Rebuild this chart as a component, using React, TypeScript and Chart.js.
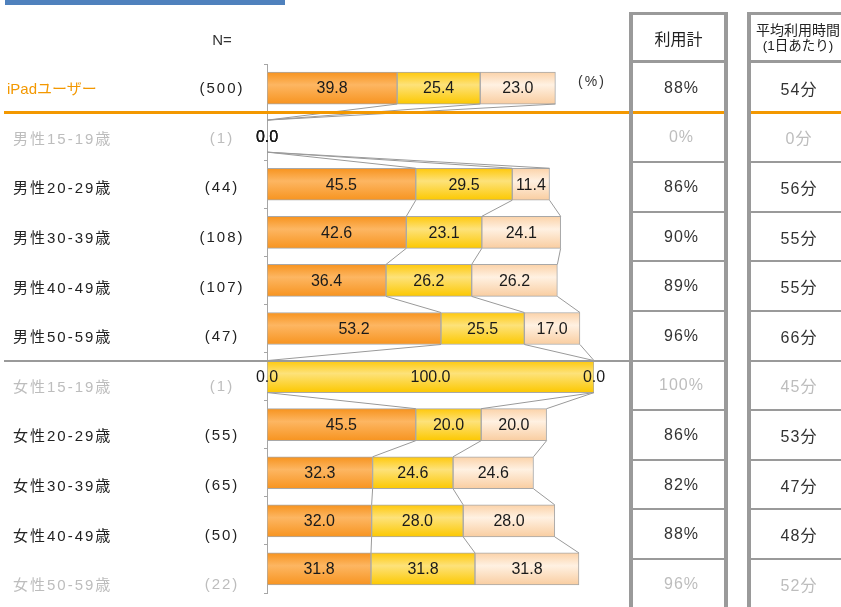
import React, { useEffect, useRef } from "react";
import { Chart, registerables } from "chart.js";

Chart.register(...registerables);

const categories = [
  "iPadユーザー",
  "男性15-19歳",
  "男性20-29歳",
  "男性30-39歳",
  "男性40-49歳",
  "男性50-59歳",
  "女性15-19歳",
  "女性20-29歳",
  "女性30-39歳",
  "女性40-49歳",
  "女性50-59歳",
];
const sampleSizes = ["(500)", "(1)", "(44)", "(108)", "(107)", "(47)", "(1)", "(55)", "(65)", "(50)", "(22)"];
const seriesA = [39.8, 0, 45.5, 42.6, 36.4, 53.2, 0, 45.5, 32.3, 32.0, 31.8];
const seriesB = [25.4, 0, 29.5, 23.1, 26.2, 25.5, 100.0, 20.0, 24.6, 28.0, 31.8];
const seriesC = [23.0, 0, 11.4, 24.1, 26.2, 17.0, 0, 20.0, 24.6, 28.0, 31.8];
const usageTotal = ["88%", "0%", "86%", "90%", "89%", "96%", "100%", "86%", "82%", "88%", "96%"];
const avgTime = ["54分", "0分", "56分", "55分", "55分", "66分", "45分", "53分", "47分", "48分", "52分"];
const mutedRows = [1, 6, 10];

const FONT = '"Liberation Sans", "Noto Sans CJK JP", sans-serif';

function gradientFill(top: string, mid: string, bottom: string) {
  return (ctx: any) => {
    const chart = ctx.chart;
    const yScale = chart.scales && chart.scales.y;
    if (!yScale || ctx.type !== "data") return mid;
    const yc = yScale.getPixelForValue(ctx.dataIndex);
    if (!isFinite(yc)) return mid;
    const g = chart.ctx.createLinearGradient(0, yc - 16, 0, yc + 16);
    g.addColorStop(0, top);
    g.addColorStop(0.4, mid);
    g.addColorStop(1, bottom);
    return g;
  };
}

const overlayPlugin = {
  id: "seriesLinesAndLabels",
  afterDatasetsDraw(chart: any) {
    const ctx = chart.ctx;
    ctx.save();
    ctx.strokeStyle = "#9a9a9a";
    ctx.lineWidth = 1;
    chart.data.datasets.forEach((_ds: any, di: number) => {
      const meta = chart.getDatasetMeta(di);
      for (let i = 0; i < meta.data.length - 1; i++) {
        const a: any = meta.data[i];
        const b: any = meta.data[i + 1];
        ctx.beginPath();
        ctx.moveTo(a.x, a.y + a.height / 2);
        ctx.lineTo(b.x, b.y - b.height / 2);
        ctx.stroke();
      }
    });
    ctx.fillStyle = "#1a1a1a";
    ctx.font = "16px " + FONT;
    ctx.textAlign = "center";
    ctx.textBaseline = "middle";
    chart.data.datasets.forEach((ds: any, di: number) => {
      const meta = chart.getDatasetMeta(di);
      meta.data.forEach((el: any, i: number) => {
        const v = ds.data[i];
        ctx.fillText(Number(v).toFixed(1), (el.x + el.base) / 2, el.y + 1);
      });
    });
    ctx.restore();
  },
};

export default function App() {
  const ref = useRef<HTMLCanvasElement>(null);

  useEffect(() => {
    if (!ref.current) return;
    const chart = new Chart(ref.current, {
      type: "bar",
      data: {
        labels: categories,
        datasets: [
          {
            label: "A",
            data: seriesA,
            backgroundColor: gradientFill("#f7931e", "#fdb662", "#f79420"),
            borderColor: "#a8a8a8",
            borderWidth: 1,
            borderSkipped: false,
          },
          {
            label: "B",
            data: seriesB,
            backgroundColor: gradientFill("#ffc80a", "#fde27a", "#fcc800"),
            borderColor: "#a8a8a8",
            borderWidth: 1,
            borderSkipped: false,
          },
          {
            label: "C",
            data: seriesC,
            backgroundColor: gradientFill("#fbd2a8", "#fff1e2", "#f9cda0"),
            borderColor: "#a8a8a8",
            borderWidth: 1,
            borderSkipped: false,
          },
        ],
      },
      options: {
        indexAxis: "y",
        animation: false,
        responsive: false,
        devicePixelRatio: 1,
        barThickness: 32,
        layout: { padding: { left: 247, right: 247, top: 64, bottom: 14 } },
        plugins: { legend: { display: false }, tooltip: { enabled: false } },
        scales: {
          x: { stacked: true, min: 0, max: 100, display: false },
          y: {
            stacked: true,
            offset: true,
            ticks: { display: false },
            grid: { offset: true, drawOnChartArea: false, tickLength: 3, color: "#a6a6a6" },
            border: { display: true, color: "#a6a6a6", width: 1 },
            afterFit: (s: any) => {
              s.width = 20;
            },
          },
        },
      } as any,
      plugins: [overlayPlugin],
    });
    return () => chart.destroy();
  }, []);

  const rowTop = 63;
  const rowH = 49.6;
  const muted = "#bdbdbd";
  const gray = "#9a9a9a";

  const abs = (l: number, t: number, w: number, h: number, extra: any = {}) => ({
    position: "absolute" as const,
    left: l,
    top: t,
    width: w,
    height: h,
    ...extra,
  });

  return (
    <div style={abs(0, 0, 841, 607, { overflow: "hidden", background: "#fff", fontFamily: FONT })}>
      <canvas ref={ref} width={841} height={607} style={abs(0, 0, 841, 607)} />

      {/* top blue bar */}
      <div style={abs(5, 0, 280, 5, { background: "#4f81bd" })} />

      {/* N= and (%) */}
      <div style={abs(182, 28, 80, 24, { fontSize: 15, color: "#333", textAlign: "center", lineHeight: "24px" })}>N=</div>
      <div style={abs(562, 69, 60, 24, { fontSize: 14, color: "#333", textAlign: "center", lineHeight: "24px", letterSpacing: 2 })}>(%)</div>

      {/* left labels */}
      {categories.map((c, i) => {
        const color = i === 0 ? "#f39800" : mutedRows.includes(i) ? muted : "#222";
        return (
          <div
            key={"l" + i}
            style={abs(i === 0 ? 7 : 13, rowTop + i * rowH, 180, rowH, {
              display: "flex",
              alignItems: "center",
              fontSize: 15,
              color,
              letterSpacing: i === 0 ? 0 : 2,
              whiteSpace: "nowrap",
            })}
          >
            {c}
          </div>
        );
      })}
      {sampleSizes.map((n, i) => (
        <div
          key={"n" + i}
          style={abs(182, rowTop + i * rowH, 80, rowH, {
            display: "flex",
            alignItems: "center",
            justifyContent: "center",
            fontSize: 15,
            color: mutedRows.includes(i) ? muted : "#222",
            letterSpacing: 2,
          })}
        >
          {n}
        </div>
      ))}

      {/* separators on the left */}
      <div style={abs(4, 111, 625, 3, { background: "#f39800" })} />
      <div style={abs(4, 359.6, 625, 2, { background: gray })} />

      {/* table borders */}
      <div style={abs(629, 12, 4, 600, { background: gray })} />
      <div style={abs(724, 12, 4, 600, { background: gray })} />
      <div style={abs(747, 12, 4, 600, { background: gray })} />
      <div style={abs(845, 12, 4, 600, { background: gray })} />
      <div style={abs(629, 12, 99, 3, { background: gray })} />
      <div style={abs(747, 12, 102, 3, { background: gray })} />
      <div style={abs(629, 60, 99, 3, { background: gray })} />
      <div style={abs(747, 60, 102, 3, { background: gray })} />
      {categories.slice(1).map((_c, k) => {
        const idx = k + 1;
        const y = rowTop + idx * rowH;
        const isOrange = idx === 1;
        const h = isOrange ? 3 : 2;
        const t = isOrange ? 111 : y - 1;
        const bg = isOrange ? "#f39800" : gray;
        return (
          <React.Fragment key={"r" + idx}>
            <div style={abs(633, t, 91, h, { background: bg })} />
            <div style={abs(751, t, 94, h, { background: bg })} />
          </React.Fragment>
        );
      })}

      {/* table headers */}
      <div style={abs(633, 15, 91, 45, { display: "flex", alignItems: "center", justifyContent: "center", fontSize: 16, color: "#222" })}>
        利用計
      </div>
      <div style={abs(751, 15, 94, 45, { display: "flex", flexDirection: "column", alignItems: "center", justifyContent: "center", color: "#222", lineHeight: "16px" })}>
        <div style={{ fontSize: 14, whiteSpace: "nowrap" }}>平均利用時間</div>
        <div style={{ fontSize: 13.5 }}>(1日あたり)</div>
      </div>

      {/* table values */}
      {usageTotal.map((v, i) => (
        <div
          key={"u" + i}
          style={abs(636, rowTop + i * rowH, 91, rowH, {
            display: "flex",
            alignItems: "center",
            justifyContent: "center",
            fontSize: 16,
            letterSpacing: 1,
            color: mutedRows.includes(i) ? muted : "#333",
          })}
        >
          {v}
        </div>
      ))}
      {avgTime.map((v, i) => (
        <div
          key={"t" + i}
          style={abs(752, rowTop + i * rowH, 94, rowH, {
            display: "flex",
            alignItems: "center",
            justifyContent: "center",
            fontSize: 16,
            letterSpacing: 1,
            color: mutedRows.includes(i) ? muted : "#333",
          })}
        >
          {v}
        </div>
      ))}
    </div>
  );
}
